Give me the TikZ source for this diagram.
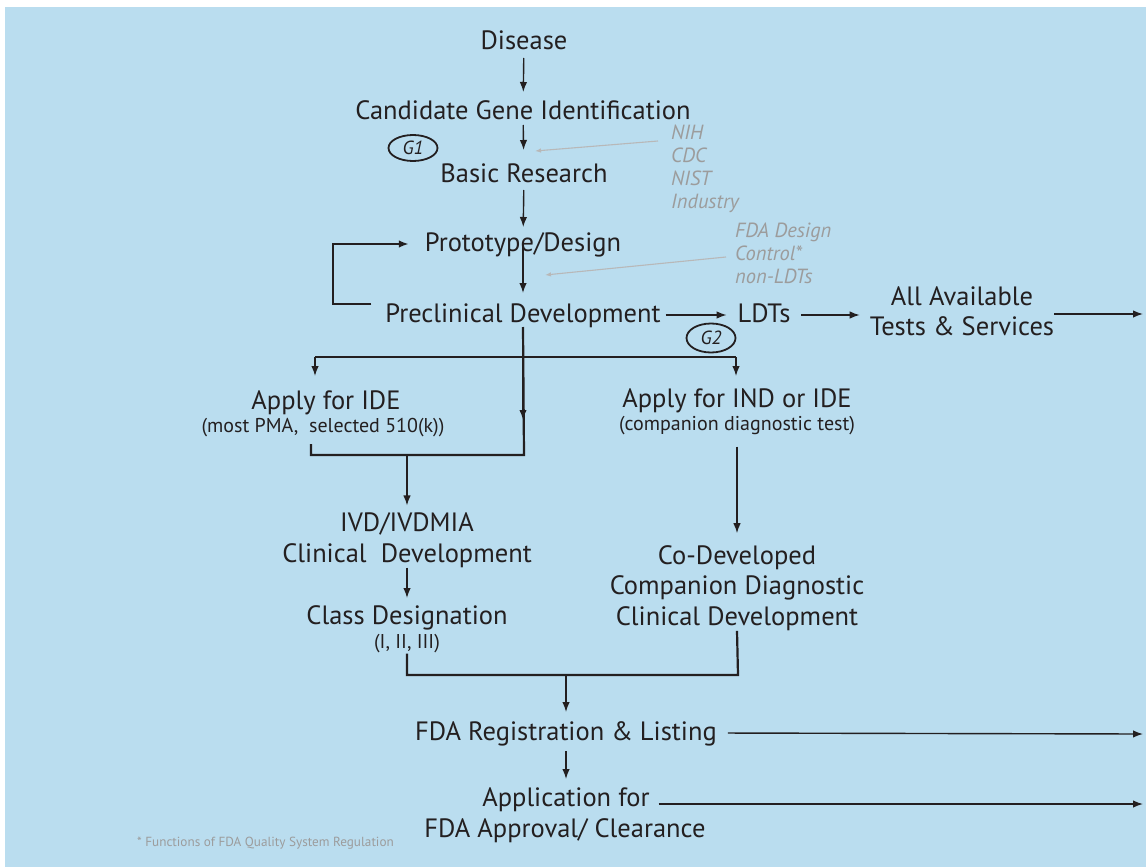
\documentclass[tikz,border=0pt]{standalone}
\usepackage{fontspec}
\setmainfont{PT Sans}
\usetikzlibrary{arrows.meta,shapes.geometric}
\definecolor{bgblue}{HTML}{BADDEF}
\definecolor{ink}{HTML}{231F20}
\definecolor{notegray}{HTML}{9C9C9C}
\definecolor{linegray}{HTML}{B8B8B8}
\tikzset{
  stage/.style={font=\fontsize{26.5}{30.5}\selectfont, text=ink, inner sep=0pt, outer sep=0pt, text height=20pt, text depth=6pt},
  multi/.style={font=\fontsize{26.5}{30.5}\selectfont, text=ink, inner sep=0pt, align=center},
  small/.style={font=\fontsize{20}{23}\selectfont, text=ink, inner sep=0pt},
  agency/.style={font=\itshape\fontsize{20.5}{23}\selectfont, text=notegray, inner sep=0pt, align=left},
  gate/.style={ellipse, draw=ink, line width=1.8pt, font=\itshape\fontsize{19}{22}\selectfont, text=ink, inner sep=0pt, minimum width=49pt, minimum height=27pt},
  flow/.style={->, line width=1.4pt, draw=ink},
  rail/.style={line width=2.2pt, draw=ink},
  feed/.style={-{Latex[length=6pt,width=4.5pt]}, line width=1.1pt, draw=linegray},
}
\begin{document}
\begin{tikzpicture}[x=1pt, y=-1pt, >={Latex[length=10pt,width=7.5pt]}]
  \useasboundingbox (0,0) rectangle (1146,867);
  \fill[bgblue] (5,7) rectangle (1146,867);

  % main column
  \node[stage] (disease) at (524,42) {Disease};
  \node[stage] (gene) at (523,112) {Candidate Gene Identification};
  \node[stage] (basic) at (524,175) {Basic Research};
  \node[stage] (proto) at (523,244) {Prototype/Design};
  \node[stage] (precl) at (523,315) {Preclinical Development};
  \node[stage] (ldt) at (764,315) {LDTs};
  \node[multi] (alltests) at (962,311) {All Available\\Tests \& Services};
  \node[gate, minimum height=26pt] (g1) at (413,148) {G1};
  \node[gate, minimum height=29pt] (g2) at (711,338) {G2};

  % sources
  \node[agency, anchor=north west] (funders) at (671,125) {NIH\\CDC\\NIST\\Industry};
  \node[agency, anchor=north west] (designctl) at (735,223) {FDA Design\\Control*\\non-LDTs};

  % two branches
  \node[stage] (ide) at (326,402) {Apply for IDE};
  \node[small] (idenote) at (323,428) {(most PMA,\ \ selected 510(k))};
  \node[stage] (ind) at (737,400) {Apply for IND or IDE};
  \node[small] (indnote) at (737,426) {(companion diagnostic test)};
  \node[multi] (ivd) at (407,540) {IVD/IVDMIA\\Clinical\ \ Development};
  \node[stage] (cls) at (407,617) {Class Designation};
  \node[small] (clsnote) at (407,644) {(I, II, III)};
  \node[multi] (codev) at (737,588) {Co-Developed\\Companion Diagnostic\\Clinical Development};

  % approval
  \node[stage] (reg) at (566,733) {FDA Registration \& Listing};
  \node[stage] (applA) at (566,799) {Application for};
  \node[stage] (applB) at (565,830) {FDA Approval/ Clearance};
  \node[font=\fontsize{13.2}{15}\selectfont, text=notegray, inner sep=0pt, anchor=west] (foot) at (137,843) {* Functions of FDA Quality System Regulation};

  \coordinate (brL) at (315,357);
  \coordinate (brR) at (736,357);
  \coordinate (joinA) at (524,455);
  \coordinate (joinB) at (311,455);
  \coordinate (joinC) at (407,455);
  \coordinate (mergeL) at (407,675);
  \coordinate (mergeR) at (738,675);
  \coordinate (mergeC) at (566,675);
  \coordinate (exitA) at (1143,314);
  \coordinate (exitB) at (1143,734);
  \coordinate (exitC) at (1143,804);
  \coordinate (feedA) at (535,151);
  \coordinate (feedB) at (545,275);

  \draw[flow, shorten <=3pt, shorten >=7pt] (disease) -- (gene);
  \draw[flow, shorten >=12pt] (gene) -- (basic);
  \draw[flow, shorten <=2pt, shorten >=4pt] (basic) -- (proto);
  \draw[flow, shorten >=9pt] (proto.center) -- (precl);
  \draw[flow, rail, shorten >=16pt] ([xshift=-14pt,yshift=11pt]precl.west) -- ++(-38,0) |- (proto.west);
  \draw[flow, shorten <=5pt, shorten >=11pt] (precl.east) -- (ldt.west);
  \draw[flow, shorten <=11pt, shorten >=10pt] (ldt.east) -- (ldt.east -| alltests.west);
  \draw[flow] (alltests.east |- exitA) -- (exitA);
  \draw[feed] ([xshift=-13pt,yshift=-16pt]funders.north west) -- (feedA);
  \draw[feed] ([xshift=-9pt,yshift=-34pt]designctl.north west) -- (feedB);

  \draw[rail] (brL) -- (brR);
  \draw[flow, shorten >=13pt] (brL) -- (brL |- ide.north);
  \draw[flow, shorten >=11pt] (brR) -- (brR |- ind.north);
  \draw[rail] ([yshift=1pt]precl.south) -- (joinA) -- (joinB) -- ++(0,-11);
  \draw[flow, rail] ([yshift=-1pt]precl.south) -- ++(0,91);
  \draw[flow, shorten >=7pt] (joinC) -- (ivd);
  \draw[flow, shorten >=6pt] (ivd) -- (cls);
  \draw[flow, shorten <=11pt, shorten >=12pt] (indnote) -- (codev);
  \draw[rail] (clsnote.south) -- (mergeL) -- (mergeR) -- (codev.south);
  \draw[flow, shorten >=8pt] (mergeC) -- (reg);
  \draw[flow, shorten <=11pt] (reg.east) -- (exitB);
  \draw[flow, shorten <=5pt, shorten >=7pt] (reg) -- (applA);
  \draw[flow, shorten <=9pt] (applA.east |- exitC) -- (exitC);
\end{tikzpicture}
\end{document}
